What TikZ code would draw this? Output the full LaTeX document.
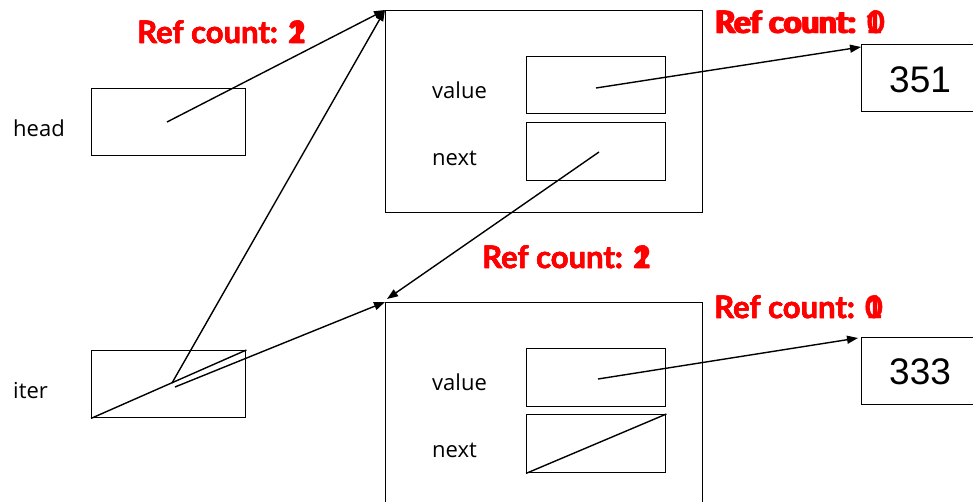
\documentclass[tikz,border=0pt]{standalone}
\usepackage{fontspec}
\setmainfont{Open Sans}
\newfontfamily\reffont{Lato}[BoldFeatures={FakeBold=1.2}]
\newfontfamily\numfont{Liberation Sans}
\usetikzlibrary{arrows.meta}
\definecolor{refred}{RGB}{255,0,0}
\begin{document}
\begin{tikzpicture}[x=1pt,y=-1pt,
  box/.style={draw=black,line width=1.4pt,inner sep=0pt,anchor=north west},
  lbl/.style={anchor=base west,inner sep=0pt,font=\fontsize{22}{24}\selectfont},
  num/.style={anchor=base west,inner sep=0pt,font=\numfont\fontsize{37}{40}\selectfont},
  refc/.style={anchor=base west,inner sep=0pt,text=refred,font=\reffont\bfseries\fontsize{31}{34}\selectfont},
  ptr/.style={draw=black,line width=1.4pt,-{Triangle[length=11pt,width=8pt]}},
  nullp/.style={draw=black,line width=1.4pt}]
\useasboundingbox (0,0) rectangle (973,501);
% variable boxes
\node[box,minimum width=154pt,minimum height=67pt] (head) at (91,88) {};
\node[box,minimum width=154pt,minimum height=67pt] (iter) at (91,350) {};
\node[lbl] (headl) at (13,136) {head};
\node[lbl] (iterl) at (13,398) {iter};
% list nodes
\node[box,minimum width=317pt,minimum height=202pt] (n1) at (385,10) {};
\node[box,minimum width=139pt,minimum height=57pt] (n1v) at (526,56) {};
\node[box,minimum width=139pt,minimum height=58pt] (n1n) at (526,122) {};
\node[lbl] (n1vl) at (432,98) {value};
\node[lbl] (n1nl) at (432,165) {next};
\node[box,minimum width=317pt,minimum height=204pt] (n2) at (385,302) {};
\node[box,minimum width=139pt,minimum height=58pt] (n2v) at (526,348) {};
\node[box,minimum width=139pt,minimum height=58pt] (n2n) at (526,414) {};
\node[lbl] (n2vl) at (432,390) {value};
\node[lbl] (n2nl) at (432,457) {next};
% value objects
\node[box,minimum width=130pt,minimum height=67pt] (o1) at (861,44) {};
\node[box,minimum width=130pt,minimum height=67pt] (o2) at (861,337) {};
\node[num] (o1t) at (889,92) {351};
\node[num] (o2t) at (889,384) {333};
% ref counts
\node[refc] (r1a) at (137,43) {Ref count: 1};
\node[refc] (r1b) at (137,43) {Ref count: 2};
\node[refc] (r2a) at (714,33) {Ref count: 1};
\node[refc] (r2b) at (716,33) {Ref count: 0};
\node[refc] (r3a) at (482,268) {Ref count: 1};
\node[refc] (r3b) at (482,268) {Ref count: 2};
\node[refc] (r4a) at (714,318) {Ref count: 1};
\node[refc] (r4b) at (714,318) {Ref count: 0};
% pointer sources
\coordinate (hs) at (167,122);
\coordinate (is1) at (172,383);
\coordinate (is2) at (175,387);
\coordinate (n1vs) at (596,88);
\coordinate (n1ns) at (599,152);
\coordinate (n2vs) at (598,379);
\coordinate (o1tip) at (861,47);
\coordinate (o2tip) at (858,338);
\coordinate (n2tip) at (387,299);
% pointers
\draw[ptr] (hs) -- (n1.north west);
\draw[ptr] (is1) -- (n1.north west);
\draw[ptr] (is2) -- (n2.north west);
\draw[ptr] (n1ns) -- (n2tip);
\draw[ptr] (n1vs) -- (o1tip);
\draw[ptr] (n2vs) -- (o2tip);
% null pointers
\draw[nullp] (iter.south west) -- (iter.north east);
\draw[nullp] (n2n.south west) -- (n2n.north east);
\end{tikzpicture}
\end{document}
